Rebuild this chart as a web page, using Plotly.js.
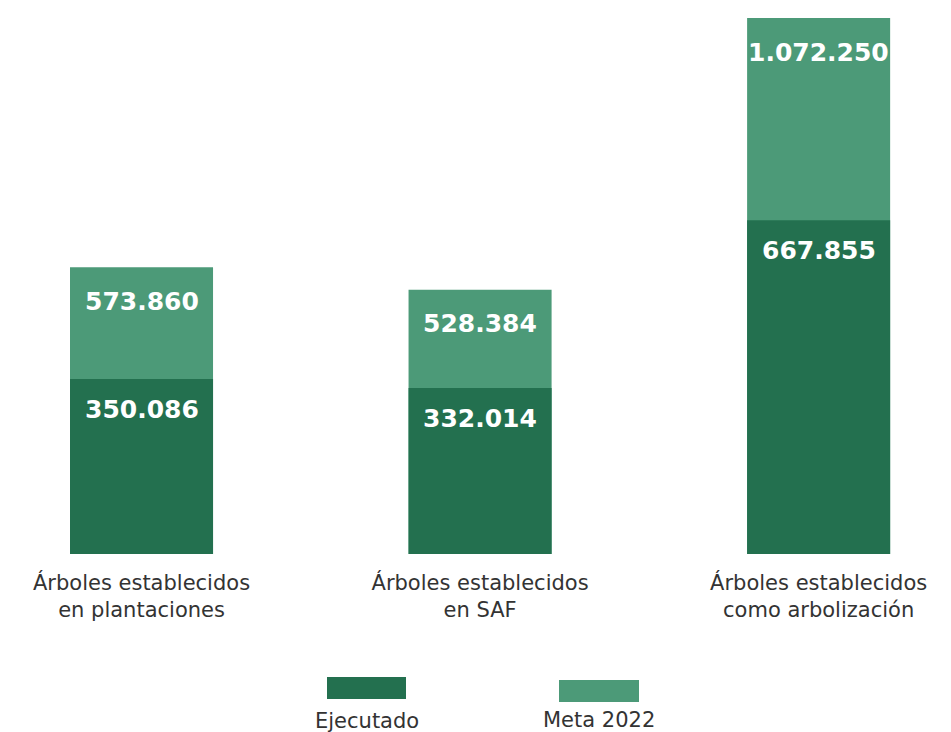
<!DOCTYPE html>
<html><head><meta charset="utf-8">
<script src="https://cdn.plot.ly/plotly-3.0.1.min.js"></script>
<style>html,body{margin:0;padding:0;background:#fff}#c{width:951px;height:732px}</style>
</head><body><div id="c"></div>
<script>
const categories = ["Árboles establecidos<br>en plantaciones", "Árboles establecidos<br>en SAF", "Árboles establecidos<br>como arbolización"];
const meta2022 = [573860, 528384, 1072250];
const ejecutado = [350086, 332014, 667855];
const seriesNames = ["Ejecutado", "Meta 2022"];
const colors = {ejecutado: "#23704f", meta: "#4c9a78"};

function fmt(v){ return String(v).replace(/\B(?=(\d{3})+(?!\d))/g, "."); }
const xs = categories.map((c,i)=>i);

const traces = [
  {type:"bar", x: xs, y: meta2022, name: seriesNames[1], marker:{color: colors.meta}, width: 0.4225, hoverinfo:"none"},
  {type:"bar", x: xs, y: ejecutado, name: seriesNames[0], marker:{color: colors.ejecutado}, width: 0.4225, hoverinfo:"none"}
];

const labelFont = {family:"DejaVu Sans", size:25, color:"#ffffff", weight:700};
const annotations = [];
xs.forEach((x,i)=>{
  annotations.push({x:x, y:meta2022[i], xref:"x", yref:"y", text:"<b>"+fmt(meta2022[i])+"</b>", showarrow:false, yanchor:"middle", yshift:-34, font:labelFont});
  annotations.push({x:x, y:ejecutado[i], xref:"x", yref:"y", text:"<b>"+fmt(ejecutado[i])+"</b>", showarrow:false, yanchor:"middle", yshift:-30, font:labelFont});
});
// legend drawn below the plot (swatch above text); paper coords are relative to plot area (y 18..554)
const PT = 18, PB = 554, PH = PB - PT;
const py = p => (PB - p) / PH;
const legFont = {family:"DejaVu Sans", size:21, color:"#333333"};
annotations.push({x:367/951, y:py(721), xref:"paper", yref:"paper", text:seriesNames[0], showarrow:false, xanchor:"center", yanchor:"middle", font:legFont});
annotations.push({x:599/951, y:py(720), xref:"paper", yref:"paper", text:seriesNames[1], showarrow:false, xanchor:"center", yanchor:"middle", font:legFont});
const shapes = [
  {type:"rect", xref:"paper", yref:"paper", x0:327/951, x1:406/951, y0:py(699), y1:py(677), fillcolor:colors.ejecutado, line:{width:0}},
  {type:"rect", xref:"paper", yref:"paper", x0:559/951, x1:639/951, y0:py(702), y1:py(680), fillcolor:colors.meta, line:{width:0}}
];

const layout = {
  width:951, height:732,
  margin:{l:0, r:0, t:PT, b:732-PB},
  paper_bgcolor:"#fff", plot_bgcolor:"#fff",
  barmode:"overlay",
  showlegend:false,
  xaxis:{range:[-0.418, 2.391], tickvals:xs, ticktext:categories, showgrid:false, zeroline:false, showline:false, ticks:"", ticklabelstandoff:14,
         tickfont:{family:"DejaVu Sans", size:21, color:"#333333"}},
  yaxis:{range:[0, 1072250], visible:false, showgrid:false, zeroline:false},
  annotations: annotations,
  shapes: shapes
};
Plotly.newPlot("c", traces, layout, {staticPlot:true});
</script></body></html>
